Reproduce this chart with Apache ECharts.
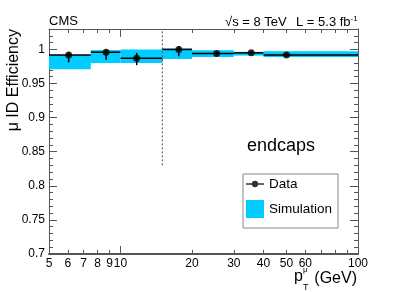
<!DOCTYPE html>
<html><head><meta charset="utf-8">
<script src="https://cdn.jsdelivr.net/npm/echarts@6/dist/echarts.min.js"></script>
<style>html,body{margin:0;padding:0;background:#fff}#c{width:407px;height:292px}</style>
</head><body><div id="c"></div>
<script>
// ---- data ----
const binLo = [5, 7.5, 10, 15, 20, 30, 40];
const binHi = [7.5, 10, 15, 20, 30, 40, 100];
const dataPt = [6.05, 8.7, 11.7, 17.6, 25.4, 35.5, 50];
const dataEff = [0.992, 0.996, 0.987, 1.000, 0.994, 0.995, 0.992];
const dataErrLo = [0.011, 0.011, 0.010, 0.010, 0.003, 0.003, 0.003];
const dataErrHi = [0.004, 0.004, 0.008, 0.005, 0.003, 0.003, 0.003];
const simLo = [0.971, 0.980, 0.980, 0.986, 0.989, 0.991, 0.989];
const simHi = [0.992, 0.999, 1.000, 1.0015, 0.999, 0.9965, 0.9975];
const xTickLabels = [5, 6, 7, 8, 9, 10, 20, 30, 40, 50, 60, 100];
const xMinorTicks = [5, 6, 7, 8, 9, 20, 30, 40, 50, 60, 70, 80, 90];
const xMajorTicks = [10];
const yTickLabels = [0.7, 0.75, 0.8, 0.85, 0.9, 0.95, 1];
const yMinorTicks = [0.71, 0.72, 0.73, 0.74, 0.76, 0.77, 0.78, 0.79, 0.81, 0.82, 0.83, 0.84,
  0.86, 0.87, 0.88, 0.89, 0.91, 0.92, 0.93, 0.94, 0.96, 0.97, 0.98, 0.99, 1.01, 1.02];
const dividerX = 15;
const dividerY = [0.83, 1.03];
const xMin = 5, xMax = 100, yMin = 0.7, yMax = 1.03;

const FONT = 'Liberation Sans, Arial, Helvetica, sans-serif';
const FRAME = '#555';
const SIM_COLOR = '#00ccff';

const simRows = binLo.map((lo, i) => [lo, binHi[i], simLo[i], simHi[i]]);
const errRows = dataPt.map((x, i) => [x, dataEff[i], binLo[i], binHi[i], dataEff[i] - dataErrLo[i], dataEff[i] + dataErrHi[i]]);
const ptRows = dataPt.map((x, i) => [x, dataEff[i]]);

function xAx(pos, ticks, len, showLine, labels) {
  return {
    type: 'log', logBase: 10, min: xMin, max: xMax, position: pos,
    axisLine: { show: showLine, onZero: false, lineStyle: { color: FRAME, width: pos === 'bottom' ? 2 : 1 } },
    axisTick: { show: true, inside: true, length: len, customValues: ticks, lineStyle: { color: FRAME, width: 1 } },
    axisLabel: labels ? { show: true, customValues: labels, margin: 4, fontSize: 12, color: '#000', fontFamily: FONT } : { show: false },
    splitLine: { show: false }, minorTick: { show: false }
  };
}
function yAx(pos, ticks, len, showLine, labels) {
  return {
    type: 'value', min: yMin, max: yMax, position: pos,
    axisLine: { show: showLine, onZero: false, lineStyle: { color: FRAME, width: 1 } },
    axisTick: { show: true, inside: true, length: len, customValues: ticks, lineStyle: { color: FRAME, width: 1 } },
    axisLabel: labels ? { show: true, customValues: labels, margin: 4, fontSize: 12, color: '#000', fontFamily: FONT } : { show: false },
    splitLine: { show: false }
  };
}

const dataIcon = 'path://M0,2.8L6.6,2.8L6.6,4.2L0,4.2Z M13.4,2.8L20,2.8L20,4.2L13.4,4.2Z M6.5,3.5A3.5,3.5,0,1,1,13.5,3.5A3.5,3.5,0,1,1,6.5,3.5Z';

const chart = echarts.init(document.getElementById('c'), null, { renderer: 'canvas' });
chart.setOption({
  animation: false,
  backgroundColor: '#fff',
  grid: { left: 49, right: 49, top: 29, bottom: 38, containLabel: false },
  xAxis: [
    xAx('bottom', xMinorTicks, 4, true, xTickLabels),
    xAx('bottom', xMajorTicks, 8, false, null),
    xAx('top', xMinorTicks, 4, true, null),
    xAx('top', xMajorTicks, 8, false, null)
  ],
  yAxis: [
    yAx('left', yTickLabels, 8, true, yTickLabels),
    yAx('left', yMinorTicks, 4, false, null),
    yAx('right', yTickLabels, 8, true, null),
    yAx('right', yMinorTicks, 4, false, null)
  ],
  legend: {
    left: 243, top: 174, orient: 'vertical', selectedMode: false,
    itemWidth: 18, itemHeight: 18, itemGap: 9, padding: [3, 6, 10, 3],
    borderColor: '#888', borderWidth: 1, backgroundColor: '#fff',
    textStyle: { fontSize: 13.5, color: '#000', fontFamily: FONT },
    data: [
      { name: 'Data', icon: dataIcon, itemStyle: { color: '#000' } },
      { name: 'Simulation', icon: 'rect', itemStyle: { color: SIM_COLOR } }
    ]
  },
  series: [
    {
      name: 'Simulation', type: 'custom', xAxisIndex: 0, yAxisIndex: 0, z: 1,
      itemStyle: { color: SIM_COLOR },
      encode: { x: [0, 1], y: [2, 3] },
      data: simRows,
      renderItem: function (params, api) {
        const a = api.coord([api.value(0), api.value(3)]);
        const b = api.coord([api.value(1), api.value(2)]);
        return { type: 'rect', shape: { x: a[0], y: a[1], width: b[0] - a[0], height: b[1] - a[1] }, style: { fill: SIM_COLOR } };
      }
    },
    {
      name: 'divider', type: 'line', xAxisIndex: 0, yAxisIndex: 0, z: 2,
      symbol: 'none', silent: true,
      lineStyle: { color: '#444', width: 1, type: [2, 2] },
      data: dividerY.map(v => [dividerX, v])
    },
    {
      name: 'Data errors', type: 'custom', xAxisIndex: 0, yAxisIndex: 0, z: 3,
      encode: { x: [0, 2, 3], y: [1, 4, 5] },
      data: errRows,
      renderItem: function (params, api) {
        const y = api.value(1);
        const l = api.coord([api.value(2), y]);
        const r = api.coord([api.value(3), y]);
        const c = api.coord([api.value(0), y]);
        const lo = api.coord([api.value(0), api.value(4)]);
        const hi = api.coord([api.value(0), api.value(5)]);
        const st = { stroke: '#000', lineWidth: 1.5 };
        return {
          type: 'group', children: [
            { type: 'line', shape: { x1: l[0], y1: l[1], x2: r[0], y2: r[1] }, style: st },
            { type: 'line', shape: { x1: c[0], y1: lo[1], x2: c[0], y2: hi[1] }, style: st }
          ]
        };
      }
    },
    {
      name: 'Data', type: 'scatter', xAxisIndex: 0, yAxisIndex: 0, z: 4,
      symbol: 'circle', symbolSize: 7,
      itemStyle: { color: '#000' },
      data: ptRows
    }
  ],
  graphic: [
    { type: 'text', x: 49, y: 21.5, style: { text: 'CMS', fontSize: 13, fontFamily: FONT, fill: '#000', align: 'left', verticalAlign: 'middle' } },
    { type: 'text', x: 225, y: 22.5, style: { text: '√s = 8 TeV', fontSize: 13, fontFamily: FONT, fill: '#000', align: 'left', verticalAlign: 'middle' } },
    { type: 'text', x: 296, y: 22.5, style: { text: 'L = 5.3 fb{s|-1}', fontSize: 13, fontFamily: FONT, fill: '#000', align: 'left', verticalAlign: 'middle',
        rich: { s: { fontSize: 8, fontFamily: FONT, fill: '#000', verticalAlign: 'top', padding: [0, 0, 8, 0] } } } },
    { type: 'text', x: 14, y: 29, rotation: Math.PI / 2, style: { text: 'μ ID Efficiency', fontSize: 16, fontFamily: FONT, fill: '#000', align: 'right', verticalAlign: 'middle' } },
    { type: 'text', x: 247, y: 146, style: { text: 'endcaps', fontSize: 18, fontFamily: FONT, fill: '#000', align: 'left', verticalAlign: 'middle' } },
    { type: 'text', x: 357, y: 279, style: { text: '(GeV)', fontSize: 16, fontFamily: FONT, fill: '#000', align: 'right', verticalAlign: 'middle' } },
    { type: 'text', x: 294, y: 277, style: { text: 'p', fontSize: 16, fontFamily: FONT, fill: '#000', align: 'left', verticalAlign: 'middle' } },
    { type: 'text', x: 303, y: 270, style: { text: 'μ', fontSize: 8, fontFamily: FONT, fill: '#000', align: 'left', verticalAlign: 'middle' } },
    { type: 'text', x: 303, y: 288, style: { text: 'T', fontSize: 9, fontFamily: FONT, fill: '#000', align: 'left', verticalAlign: 'middle' } }
  ]
});
</script>
</body></html>
